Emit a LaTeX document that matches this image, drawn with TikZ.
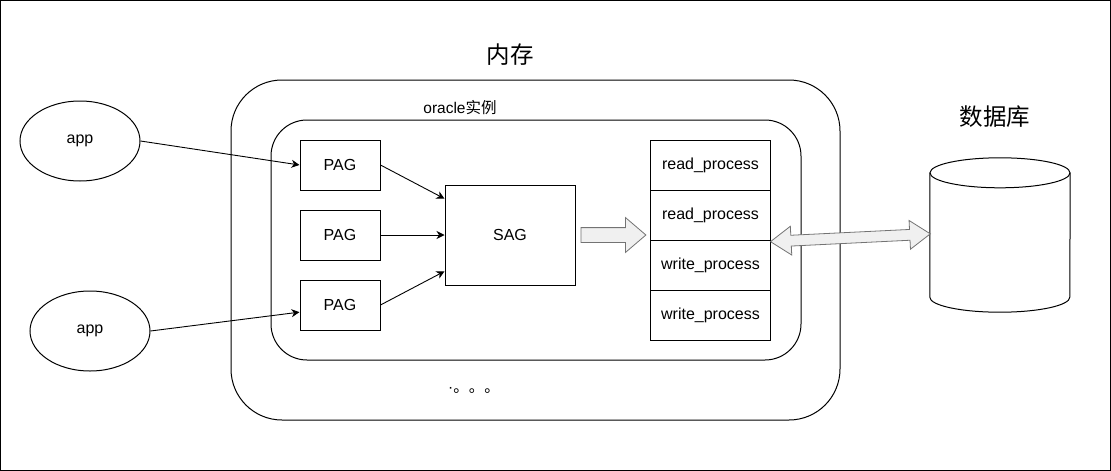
\documentclass[tikz,border=0pt]{standalone}
\usepackage{fontspec}
\setmainfont{Liberation Sans}
\newfontfamily\cjk{Noto Sans CJK SC}
\usetikzlibrary{shapes,shapes.arrows,arrows.meta,calc}

\begin{document}
\begin{tikzpicture}[x=1pt,y=1pt,
      box/.style = {draw, line width=1pt, font=\fontsize{16}{19}\selectfont, inner sep=0pt},
      pag/.style = {box, minimum width=80pt, minimum height=50pt},
      proc/.style = {box, minimum width=120pt, minimum height=50pt},
      app/.style = {box, ellipse, minimum width=120pt, minimum height=80pt},
      zone/.style = {draw, line width=1pt, inner sep=0pt},
      title/.style = {font=\fontsize{23.5}{28}\selectfont\cjk},
      rel/.style = {-{Stealth[length=8pt,width=8pt,inset=2.5pt]}, line width=0.9pt},
      block/.style = {draw=black!55, fill=black!6, line width=0.8pt}
      ]
      \useasboundingbox (0,0) rectangle (1111,-471);
      \draw[line width=1.5pt] (0.5,-0.5) rectangle (1110.5,-470.5);
      % zones
      \node[zone, rounded corners=51pt, minimum width=609pt, minimum height=340pt] (mem) at (535.5,-250) {};
      \node[zone, rounded corners=36pt, minimum width=530pt, minimum height=240pt] (inst) at (536,-240) {};
      \node[title] (memlbl) at (510,-55) {内存};
      \node[font=\fontsize{15.5}{18}\selectfont] (instlbl) at (460,-108) {oracle{\cjk 实例}};
      \node[font=\fontsize{15.5}{18}\selectfont, anchor=west, inner sep=0pt] (dots) at (448,-390) {·{\cjk 。。。}};
      % nodes
      \node[app] (app1) at (80,-141) {app};
      \node[app] (app2) at (90,-331) {app};
      \node[pag] (pag1) at (340,-165) {PAG};
      \node[pag] (pag2) at (340,-235) {PAG};
      \node[pag] (pag3) at (340,-305) {PAG};
      \node[box, minimum width=130pt, minimum height=100pt] (sag) at (510,-235) {SAG};
      \node[proc] (proc1) at (710.5,-165) {read\_process};
      \node[proc] (proc2) at (710.5,-215) {read\_process};
      \node[proc] (proc3) at (710.5,-265) {write\_process};
      \node[proc] (proc4) at (710.5,-315) {write\_process};
      % database
      \node[minimum width=140pt, minimum height=154pt, inner sep=0pt] (db) at (1000,-235) {};
      \node[title] (dblbl) at (995,-117) {数据库};
      \draw[line width=1pt, fill=white] ([yshift=-15pt]db.north west) -- ([yshift=15pt]db.south west)
        arc[start angle=180, end angle=360, x radius=70, y radius=15] -- ([yshift=-15pt]db.north east);
      \draw[line width=1pt] ([yshift=-15pt]db.north) ellipse[x radius=70, y radius=15];
      % connectors
      \path[rel] (app1.east) edge (pag1.west);
      \path[rel] (app2.east) edge (pag3.190);
      \path[rel] (pag1.east) edge (sag.151);
      \path[rel] (pag2.east) edge (sag.west);
      \path[rel] (pag3.east) edge (sag.209);
      \node[block, single arrow, single arrow head extend=10pt, single arrow tip angle=81,
        minimum height=65pt, inner sep=7pt, anchor=tail] (flow) at ([xshift=5pt]sag.east) {};
      \node[block, double arrow, double arrow head extend=9pt, double arrow tip angle=70,
        minimum height=160pt, inner sep=5pt, rotate=2.8] (link) at ($(proc2.south east)!0.5!(db.west)$) {};
\end{tikzpicture}
\end{document}
